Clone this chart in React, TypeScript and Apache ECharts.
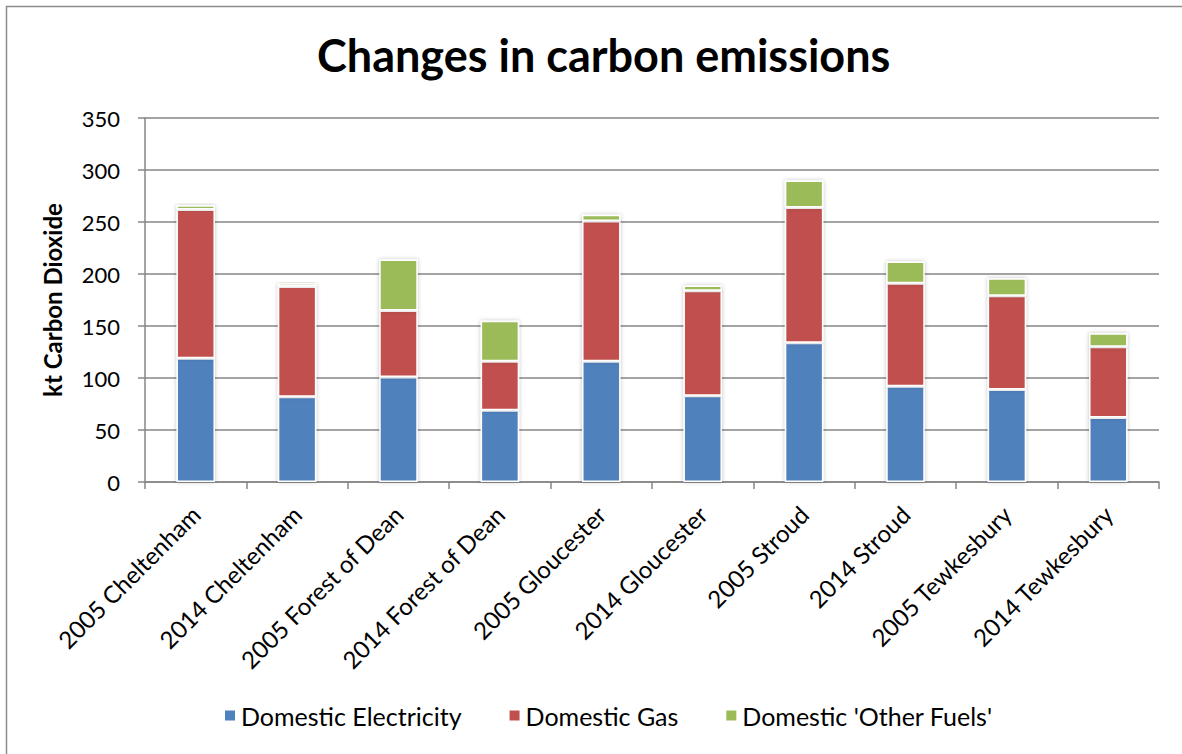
import React, { useEffect, useRef } from "react";
import * as echarts from "echarts";

const categories = [
  "2005 Cheltenham",
  "2014 Cheltenham",
  "2005 Forest of Dean",
  "2014 Forest of Dean",
  "2005 Gloucester",
  "2014 Gloucester",
  "2005 Stroud",
  "2014 Stroud",
  "2005 Tewkesbury",
  "2014 Tewkesbury",
];

const electricity = [119, 82, 101, 69, 116, 83, 134, 92, 89, 62];
const gas = [143, 106, 64, 47, 135, 101, 130, 99, 90, 68];
const otherFuels = [4, 3, 49, 39, 6, 5, 26, 21, 17, 13];

const yTicks = { min: 0, max: 350, interval: 50 };

const FONT = "Lato, 'Open Sans', sans-serif";

export default function App() {
  const ref = useRef<HTMLDivElement>(null);

  useEffect(() => {
    if (!ref.current) return;
    const chart = echarts.init(ref.current, null, { renderer: "svg" });

    const barStyle = (color: string) => ({
      color,
      borderColor: "#ffffff",
      borderWidth: 1.5,
      shadowColor: "rgba(0,0,0,0.25)",
      shadowBlur: 4,
    });

    chart.setOption({
      animation: false,
      backgroundColor: "#ffffff",
      textStyle: { fontFamily: FONT },
      title: {
        text: "Changes in carbon emissions",
        left: 312,
        top: 27,
        textStyle: { fontSize: 45, fontWeight: "bold", color: "#000", fontFamily: FONT },
      },
      graphic: [
        {
          type: "rect",
          shape: { x: 6.5, y: 6.5, width: 1200, height: 760 },
          style: { fill: "none", stroke: "#8c8c8c", lineWidth: 1.5 },
          silent: true,
        },
      ],
      legend: {
        bottom: 21,
        left: 218,
        itemWidth: 12,
        itemHeight: 12,
        itemGap: 46,
        icon: "rect",
        textStyle: { fontSize: 25, color: "#000", fontFamily: FONT },
        data: ["Domestic Electricity", "Domestic Gas", "Domestic 'Other Fuels'"],
      },
      grid: {
        left: 145,
        right: 23,
        top: 118,
        bottom: 272,
        containLabel: false,
        outerBoundsMode: "none",
      },
      xAxis: {
        type: "category",
        data: categories,
        axisLine: { lineStyle: { color: "#868686", width: 1.5 } },
        axisTick: { show: true, length: 7, alignWithLabel: false, lineStyle: { color: "#868686", width: 1.5 } },
        axisLabel: {
          rotate: 45,
          interval: 0,
          fontSize: 24,
          color: "#000",
          margin: 28,
          fontFamily: FONT,
        },
      },
      yAxis: {
        type: "value",
        min: yTicks.min,
        max: yTicks.max,
        interval: yTicks.interval,
        name: "kt Carbon Dioxide",
        nameLocation: "middle",
        nameGap: 81,
        nameTextStyle: { fontSize: 24, fontWeight: "bold", color: "#000", fontFamily: FONT },
        axisLine: { show: true, lineStyle: { color: "#868686", width: 1.5 } },
        axisTick: { show: true, length: 7, lineStyle: { color: "#868686", width: 1.5 } },
        axisLabel: { fontSize: 22, color: "#000", margin: 25, fontFamily: FONT },
        splitLine: { show: true, lineStyle: { color: "#868686", width: 1.5 } },
      },
      series: [
        {
          name: "Domestic Electricity",
          type: "bar",
          stack: "total",
          barWidth: "38%",
          data: electricity,
          itemStyle: barStyle("#4F81BD"),
        },
        {
          name: "Domestic Gas",
          type: "bar",
          stack: "total",
          data: gas,
          itemStyle: barStyle("#C0504D"),
        },
        {
          name: "Domestic 'Other Fuels'",
          type: "bar",
          stack: "total",
          data: otherFuels,
          itemStyle: barStyle("#9BBB59"),
        },
      ],
    });

    return () => chart.dispose();
  }, []);

  return (
    <div
      ref={ref}
      style={{ position: "fixed", left: 0, top: 0, width: 1182, height: 754 }}
    />
  );
}
